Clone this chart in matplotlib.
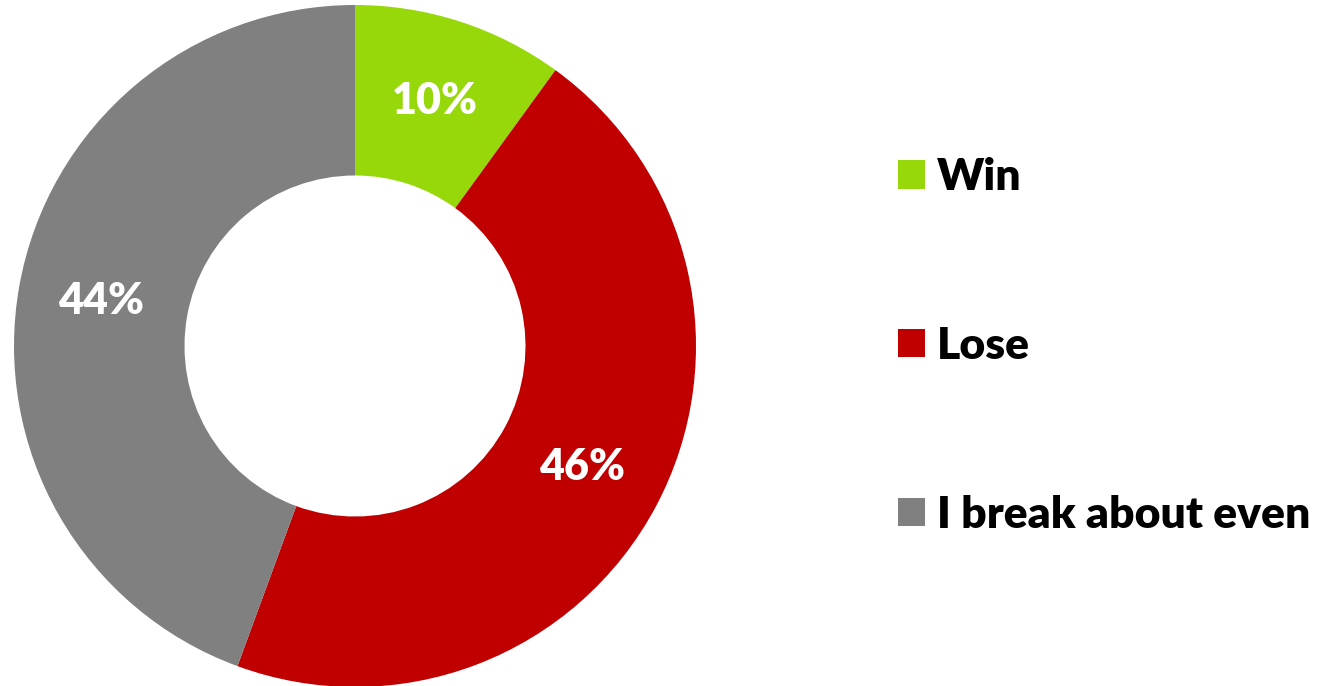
import matplotlib.pyplot as plt
from matplotlib.patches import Patch

# data
labels = ['Win', 'Lose', 'I break about even']
shares = [10.0, 45.6, 44.4]
colors = ['#97D80A', '#C00000', '#808080']

W, H = 1324, 686
fig = plt.figure(figsize=(W / 100, H / 100), dpi=100)

# donut centred at (355, 346) px, outer radius 341 px
cx, cy, r = 355, 346, 341
ax = fig.add_axes([(cx - r) / W, (H - cy - r) / H, 2 * r / W, 2 * r / H])
wedges, texts, autotexts = ax.pie(
    shares, colors=colors, startangle=90, counterclock=False,
    wedgeprops=dict(width=0.5, edgecolor='none'),
    autopct='%.0f%%', pctdistance=0.755, radius=1)
for t in autotexts:
    t.set_color('white')
    t.set_fontfamily('Lato')
    t.set_fontweight('heavy')
    t.set_fontsize(31)
ax.set_xlim(-1, 1)
ax.set_ylim(-1, 1)
ax.set_aspect('equal')
ax.axis('off')

handles = [Patch(facecolor=c, edgecolor='none') for c in colors]
leg = fig.legend(handles, labels, loc='upper left', bbox_to_anchor=(898 / W, 1 - 157 / H),
                 frameon=False, prop=dict(family='Lato', weight='heavy', size=32),
                 handlelength=0.61, handleheight=0.61, handletextpad=0.27,
                 labelspacing=2.9, borderpad=0, borderaxespad=0)

fig.savefig('out.png', dpi=100)
